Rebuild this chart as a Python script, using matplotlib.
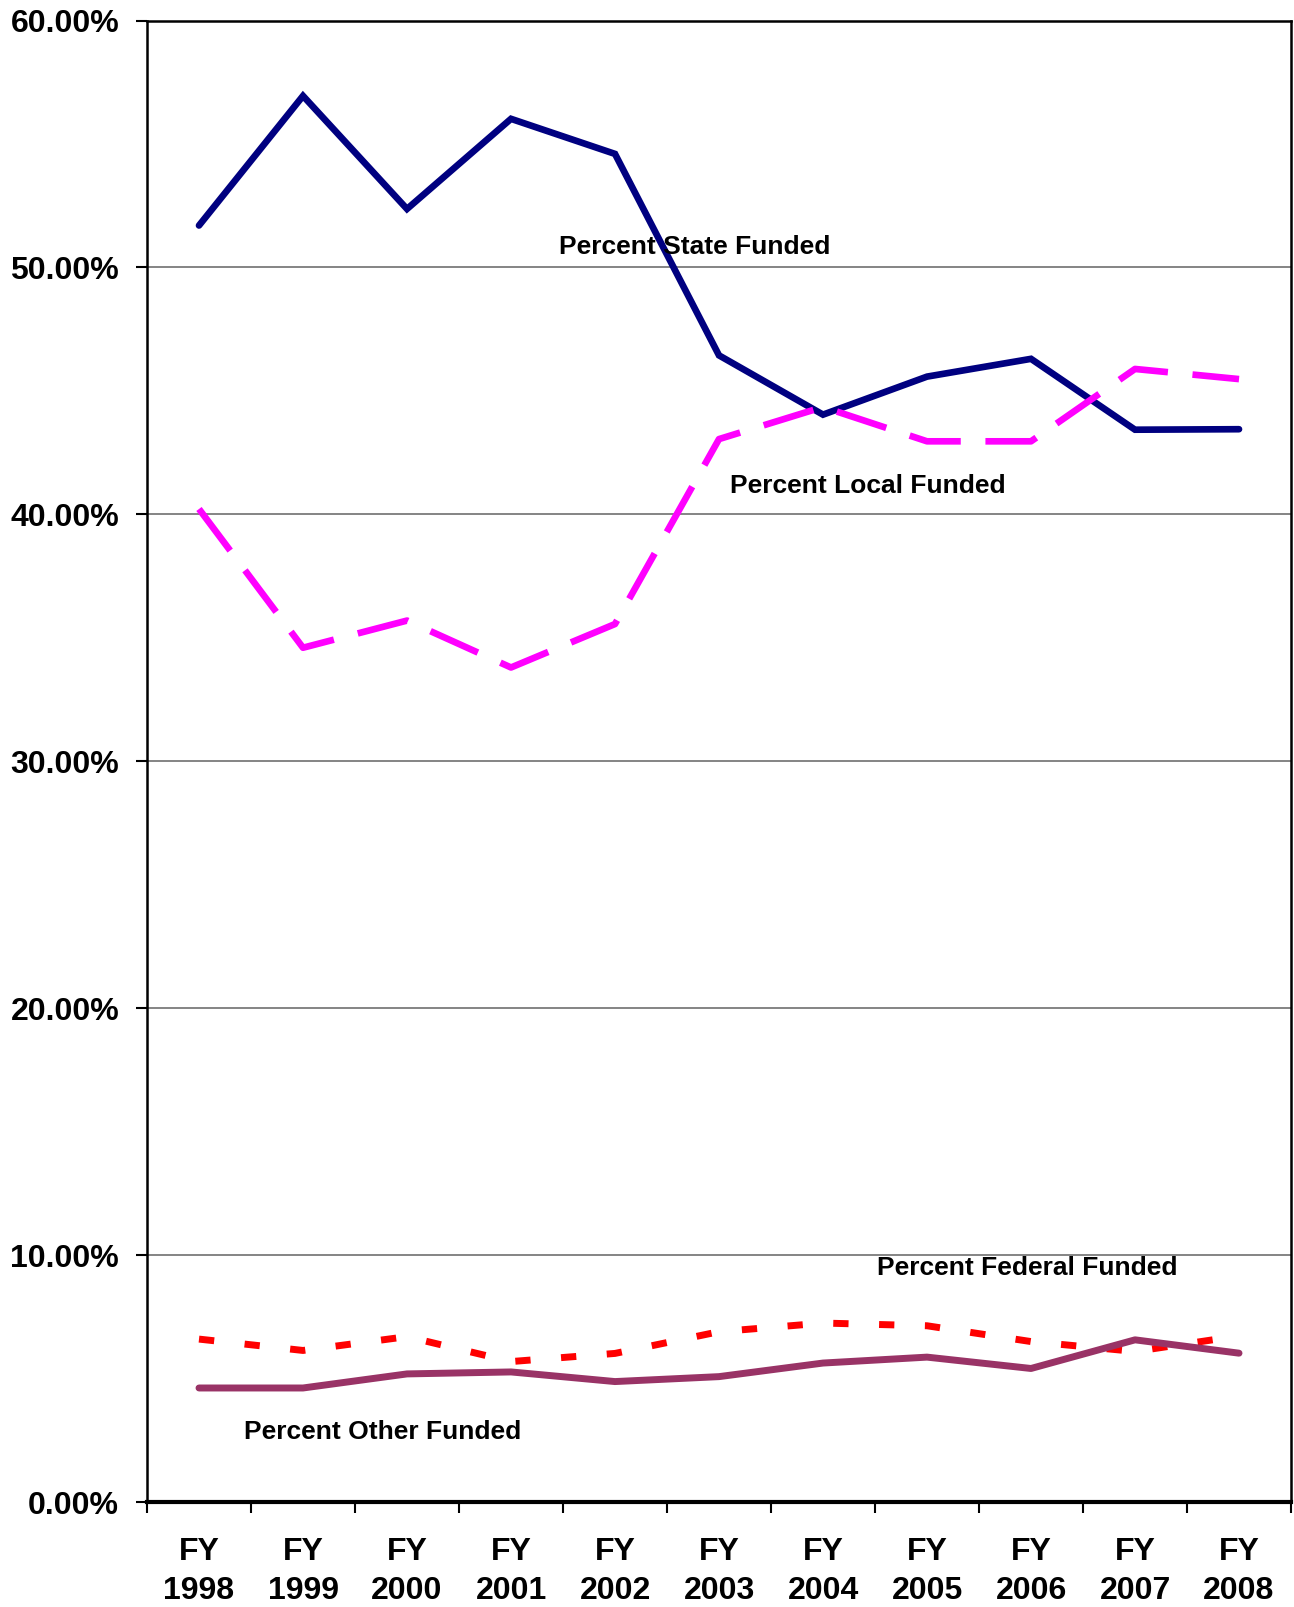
import matplotlib.pyplot as plt
from matplotlib.ticker import PercentFormatter

plt.rcParams['font.family'] = ['Liberation Sans', 'DejaVu Sans']

years = ['FY\n1998', 'FY\n1999', 'FY\n2000', 'FY\n2001', 'FY\n2002', 'FY\n2003',
         'FY\n2004', 'FY\n2005', 'FY\n2006', 'FY\n2007', 'FY\n2008']
state = [51.70, 56.95, 52.37, 56.02, 54.60, 46.44, 44.04, 45.58, 46.30, 43.43, 43.45]
local = [40.22, 34.60, 35.70, 33.80, 35.56, 43.05, 44.35, 42.96, 42.96, 45.89, 45.48]
federal = [6.60, 6.14, 6.70, 5.69, 6.02, 6.90, 7.25, 7.14, 6.50, 6.10, 6.73]
other = [4.62, 4.62, 5.19, 5.27, 4.88, 5.08, 5.63, 5.87, 5.41, 6.57, 6.03]

x = list(range(len(years)))

fig = plt.figure(figsize=(12.94, 16.07), dpi=100)
ax = fig.add_axes([0.1136, 0.0653, 0.8841, 0.9219])

ax.plot(x, state, color='#000080', lw=4.8, solid_capstyle='round', solid_joinstyle='miter')
ax.plot(x, local, color='#FF00FF', lw=4.8, dashes=(7.8, 3.7), dash_capstyle='butt')
ax.plot(x, federal, color='#FF0000', lw=5, dashes=(2.2, 4.4), dash_capstyle='butt')
ax.plot(x, other, color='#993366', lw=5, solid_capstyle='round')

lab = dict(fontsize=19, fontweight='bold', color='black', va='center', ha='left')
ax.text(3.46, 50.83, 'Percent State Funded', **lab)
ax.text(5.11, 41.17, 'Percent Local Funded', **lab)
ax.text(6.52, 9.46, 'Percent Federal Funded', **lab)
ax.text(0.43, 2.82, 'Percent Other Funded', **lab)

ax.set_xlim(-0.5, 10.5)
ax.set_ylim(0, 60)
ax.set_yticks(range(0, 61, 10))
ax.yaxis.set_major_formatter(PercentFormatter(decimals=2))
ax.grid(axis='y', color='#707070', lw=1.2)
ax.set_axisbelow(True)

ax.set_xticks(x)
ax.set_xticklabels(years, fontsize=23, fontweight='bold', linespacing=1.38)
ax.set_xticks([i - 0.5 for i in range(len(years) + 1)], minor=True)
ax.tick_params(axis='x', which='major', length=0, pad=25)
ax.tick_params(axis='x', which='minor', length=8, width=1.5, direction='out')
ax.tick_params(axis='y', length=8, width=1.5, direction='out', pad=12, labelsize=23)
for t in ax.get_yticklabels():
    t.set_fontweight('bold')

for s in ax.spines.values():
    s.set_linewidth(1.8)
    s.set_color('black')
ax.spines['bottom'].set_linewidth(3)

plt.savefig('out.png', dpi=100)
